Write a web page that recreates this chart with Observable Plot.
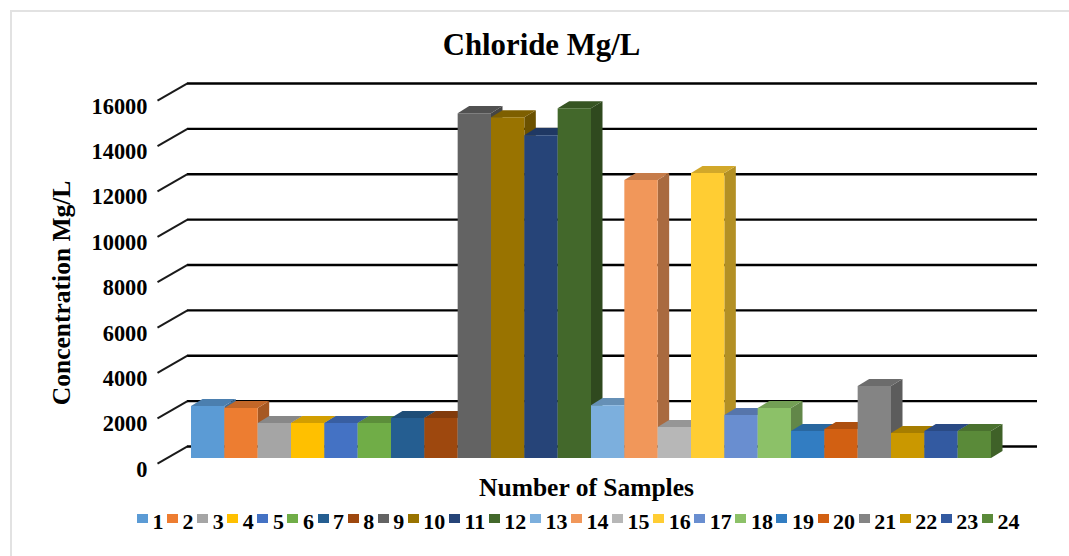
<!DOCTYPE html>
<html>
<head>
<meta charset="utf-8">
<script src="https://cdn.jsdelivr.net/npm/d3@7"></script>
<script src="https://cdn.jsdelivr.net/npm/@observablehq/plot@0.6"></script>
<style>
html,body{margin:0;padding:0;background:#fff;}
body{width:1069px;height:556px;overflow:hidden;position:relative;font-family:"Liberation Serif",serif;font-weight:bold;color:#000;}
#frame{position:absolute;left:10px;top:10px;width:1080px;height:580px;border:2px solid #e2e2e2;box-sizing:border-box;}
#title{position:absolute;left:0;width:1083px;top:28px;text-align:center;font-size:30.8px;line-height:34px;margin:0;font-weight:bold;}
#legend{position:absolute;left:137px;top:510px;display:flex;font-size:22px;line-height:24px;}
#legend .item{display:flex;align-items:center;margin-right:3.6px;}
#legend .sw{width:11px;height:9px;margin-right:4.5px;margin-top:-8px;}
#chart{position:absolute;left:0;top:0;}
svg{display:block;}
</style>
</head>
<body>
<div id="frame"></div>
<div id="chart"></div>
<h1 id="title">Chloride Mg/L</h1>
<div id="legend"></div>
<script>
const samples = d3.range(1, 25);
const chloride = [2290, 2200, 1540, 1540, 1540, 1540, 1760, 1760, 15200, 15020, 14230, 15420, 2330, 12250, 1370, 12560, 1890, 2200, 1190, 1280, 3170, 1100, 1190, 1190];
const colors = ["#5b9bd5","#ed7d31","#a5a5a5","#ffc000","#4472c4","#70ad47","#255e91","#9e480e","#636363","#997300","#264478","#43682b","#7cafdd","#f1975a","#b7b7b7","#ffcd33","#698ed0","#8cc168","#327dc2","#d26012","#848484","#ca9800","#335aa1","#5a8a39"];
const yTicks = [0, 2000, 4000, 6000, 8000, 10000, 12000, 14000, 16000];

// depth of the extruded bars, in scale units
const depthX = 0.345, depthY = 310;
const shade = (c, k) => d3.rgb(c).darker(k).formatHex();

const faces = [];
samples.forEach((s, i) => {
  const v = chloride[i], c = colors[i], a = i, b = i + 1;
  const add = (face, fill, pts) => pts.forEach(([x, y1, y2]) => faces.push({z: `${s}-${face}`, fill, x, y1, y2}));
  add("side", shade(c, 1), [[b, 0, v], [b + depthX, depthY, v + depthY]]);
  add("top", shade(c, 0.55), [[a, v, v], [a + depthX, v, v + depthY], [b, v, v + depthY], [b + depthX, v + depthY, v + depthY]]);
  add("front", c, [[a, 0, v], [b, 0, v]]);
});

// the back wall sits behind the bar plane
const wallX1 = -0.12, wallX2 = 25.38, tickX = -1.02, wallLift = 530, tickDrop = 230;

const chart = Plot.plot({
  width: 1069,
  height: 556,
  marginLeft: 0, marginRight: 0, marginTop: 0, marginBottom: 0,
  style: {background: "transparent", fontFamily: "'Liberation Serif',serif", fontWeight: "bold", color: "#000"},
  x: {type: "linear", domain: [0, 24], range: [191, 991], axis: null},
  y: {type: "linear", domain: [0, 16000], range: [458, 95], axis: null},
  marks: [
    Plot.ruleY(yTicks, {y: d => d + wallLift, x1: wallX1, x2: wallX2, stroke: "#000", strokeWidth: 2.4}),
    Plot.link(yTicks, {x1: tickX, x2: wallX1, y1: d => d - tickDrop, y2: d => d + wallLift, stroke: "#1a1a1a", strokeWidth: 2}),
    Plot.areaY(faces, {x: "x", y1: "y1", y2: "y2", z: "z", fill: d => d.fill, curve: "linear"}),
    Plot.text(yTicks, {y: d => d, x: tickX, dx: -10, dy: 11, text: d => String(d), textAnchor: "end", fontSize: 22.4, fill: "#000"}),
    Plot.text(["Concentration Mg/L"], {x: () => -3.88, y: () => 7300, text: d => d, rotate: -90, fontSize: 25.5, fill: "#000"}),
    Plot.text(["Number of Samples"], {x: () => 11.85, y: () => -1310, text: d => d, fontSize: 25.5, fill: "#000"})
  ]
});
document.getElementById("chart").append(chart);

const legend = document.getElementById("legend");
samples.forEach((s, i) => {
  const item = document.createElement("div");
  item.className = "item";
  const sw = document.createElement("span");
  sw.className = "sw";
  sw.style.background = colors[i];
  const t = document.createElement("span");
  t.textContent = s;
  item.append(sw, t);
  legend.append(item);
});
</script>
</body>
</html>
